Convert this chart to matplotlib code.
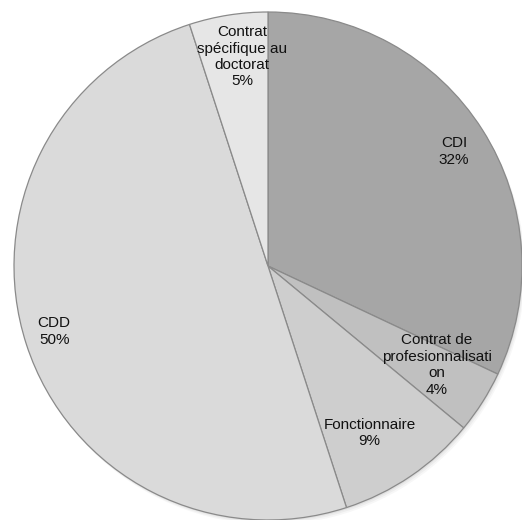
import matplotlib.pyplot as plt
import numpy as np

plt.rcParams['font.family'] = ['Liberation Sans', 'DejaVu Sans']

labels = ['CDI', 'Contrat de\nprofesionnalisati\non', 'Fonctionnaire', 'CDD',
          'Contrat\nspécifique au\ndoctorat']
values = [32, 4, 9, 50, 5]
colors = ['#a6a6a6', '#c0c0c0', '#cecece', '#dadada', '#e6e6e6']

fig = plt.figure(figsize=(5.22, 5.20), dpi=100)
ax = fig.add_axes([0, 0, 1, 1])

# soft shadow under the pie
for i, a in enumerate([0.05, 0.04, 0.03]):
    sh = plt.Circle((0.004 * (i + 1), -0.006 * (i + 1)), 1.0, color='black',
                    alpha=a, zorder=0, lw=0)
    ax.add_patch(sh)

wedges, _ = ax.pie(values, colors=colors, startangle=90, counterclock=False,
                   radius=1.0,
                   wedgeprops=dict(edgecolor='#8a8a8a', linewidth=0.9))
for w in wedges:
    w.set_zorder(2)

# label placement (distance from centre, angle nudge in degrees)
dists = [0.86, 0.77, 0.77, 0.88, 0.83]
nudge = [-0.8, 2.0, -2.9, -1.0, -2.0]
for w, lab, v, d, n in zip(wedges, labels, values, dists, nudge):
    ang = np.deg2rad((w.theta1 + w.theta2) / 2 + n)
    ax.text(d * np.cos(ang), d * np.sin(ang), f'{lab}\n{v}%',
            ha='center', va='center', fontsize=11, color='#111111',
            linespacing=1.22, zorder=5)

R = 254.0
cx, cy = 268.0, 266.0
ax.set_xlim(-cx / R, (522 - cx) / R)
ax.set_ylim(-(520 - cy) / R, cy / R)
ax.set_aspect('equal')
ax.axis('off')

plt.savefig('out.png', dpi=100)
